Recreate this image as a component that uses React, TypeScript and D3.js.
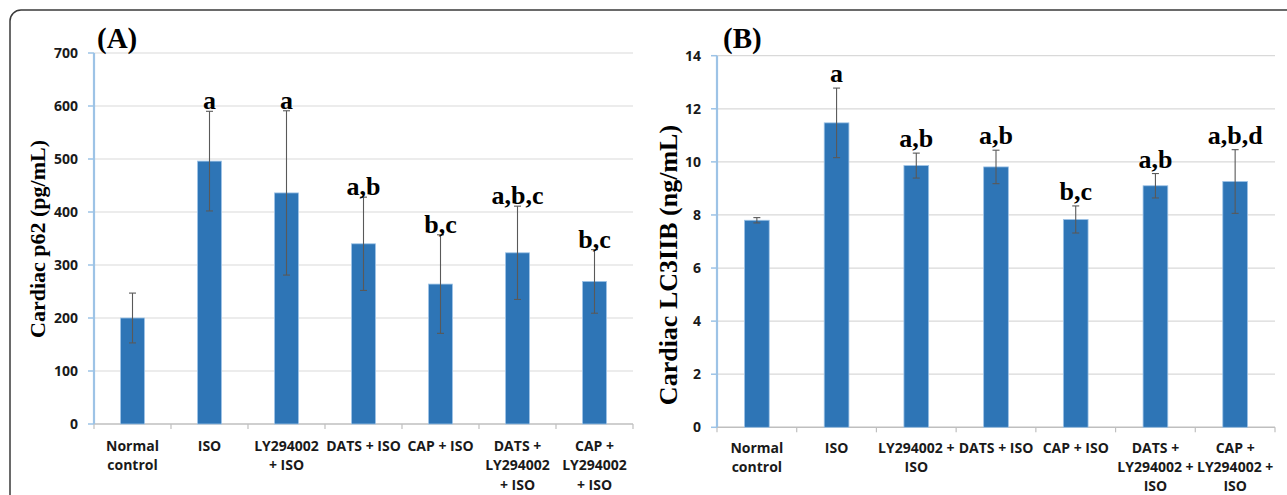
import React from "react";
import * as d3 from "d3";

// panel A - cardiac p62
const catsA = ["Normal\ncontrol", "ISO", "LY294002\n+ ISO", "DATS + ISO", "CAP + ISO", "DATS +\nLY294002\n+ ISO", "CAP +\nLY294002\n+ ISO"];
const p62Mean = [200, 496, 436, 340, 264, 323, 269];
const p62Err = [47, 94, 155, 88, 93, 88, 60];
const p62Sig = ["", "a", "a", "a,b", "b,c", "a,b,c", "b,c"];
const p62Ticks = [0, 100, 200, 300, 400, 500, 600, 700];

// panel B - cardiac LC3IIB
const catsB = ["Normal\ncontrol", "ISO", "LY294002 +\nISO", "DATS + ISO", "CAP + ISO", "DATS +\nLY294002 +\nISO", "CAP +\nLY294002 +\nISO"];
const lc3Mean = [7.8, 11.47, 9.86, 9.81, 7.83, 9.1, 9.26];
const lc3Err = [0.1, 1.31, 0.47, 0.63, 0.51, 0.46, 1.2];
const lc3Sig = ["", "a", "a,b", "a,b", "b,c", "a,b", "a,b,d"];
const lc3Ticks = [0, 2, 4, 6, 8, 10, 12, 14];

const sans = "'Open Sans', 'Noto Sans', sans-serif";
const serif = "'Liberation Serif', 'DejaVu Serif', serif";

const Panel = ({ cats, means, errs, sigs, ticks, title, tag, left, right, top, bottom, titleX, titleY, titleSize, tagX, sigGap, labelLead }) => {
  const x = d3.scaleBand().domain(cats).range([left, right]).padding(0);
  const y = d3.scaleLinear().domain([0, d3.max(ticks)]).range([bottom, top]);
  const bw = x.bandwidth() * 0.31;
  const edges = cats.map((c) => x(c)).concat([right]);

  return (
    <g>
      {ticks.filter((t) => t > 0).map((t) => (
        <line key={"g" + t} x1={left} x2={right} y1={y(t)} y2={y(t)} stroke="#d9d9d9" strokeWidth={1.2} />
      ))}
      <line x1={left} x2={right} y1={y(0)} y2={y(0)} stroke="#bfbfbf" strokeWidth={1.5} />
      {edges.map((e, i) => (
        <line key={"xt" + i} x1={e} x2={e} y1={y(0)} y2={y(0) + 5} stroke="#bfbfbf" strokeWidth={1.2} />
      ))}
      <line x1={left} x2={left} y1={y(d3.max(ticks))} y2={y(0)} stroke="#9dc3e6" strokeWidth={2.2} />
      {ticks.map((t) => (
        <g key={"t" + t}>
          <line x1={left - 6} x2={left} y1={y(t)} y2={y(t)} stroke="#9dc3e6" strokeWidth={1.5} />
          <text x={left - 16} y={y(t)} dy="0.36em" textAnchor="end" fontFamily={sans} fontWeight="bold" fontSize={14} fill="#1a1a1a">
            {t}
          </text>
        </g>
      ))}
      {cats.map((c, i) => {
        const cx = x(c) + x.bandwidth() / 2;
        const hi = y(means[i] + errs[i]);
        const lo = y(means[i] - errs[i]);
        return (
          <g key={c}>
            <rect x={cx - bw / 2} y={y(means[i])} width={bw} height={y(0) - y(means[i])} fill="#2e75b6" stroke="#9dc3e6" strokeWidth={0.8} />
            <line x1={cx} x2={cx} y1={hi} y2={lo} stroke="#595959" strokeWidth={1.1} />
            <line x1={cx - 3.5} x2={cx + 3.5} y1={hi} y2={hi} stroke="#595959" strokeWidth={1.1} />
            <line x1={cx - 3.5} x2={cx + 3.5} y1={lo} y2={lo} stroke="#595959" strokeWidth={1.1} />
            {sigs[i] && (
              <text x={cx} y={hi - sigGap} textAnchor="middle" fontFamily={serif} fontWeight="bold" fontSize={26} fill="#000">
                {sigs[i]}
              </text>
            )}
            <text textAnchor="middle" fontFamily={sans} fontWeight="bold" fontSize={14} fill="#1a1a1a">
              {c.split("\n").map((line, j) => (
                <tspan key={j} x={cx} y={y(0) + labelLead + j * 19.3}>
                  {line}
                </tspan>
              ))}
            </text>
          </g>
        );
      })}
      <text transform={`translate(${titleX},${titleY}) rotate(-90)`} textAnchor="middle" fontFamily={serif} fontWeight="bold" fontSize={titleSize} fill="#000">
        {title}
      </text>
      <text x={tagX} y={47.5} fontFamily={serif} fontWeight="bold" fontSize={29} fill="#000">
        {tag}
      </text>
    </g>
  );
};

export default function App() {
  return (
    <svg width={1287} height={495} style={{ position: "absolute", left: 0, top: 0, background: "#fff" }}>
      <rect x={10} y={10} width={1400} height={600} rx={11} fill="#fff" stroke="#3a3a3a" strokeWidth={1.5} />
      <Panel
        cats={catsA} means={p62Mean} errs={p62Err} sigs={p62Sig} ticks={p62Ticks}
        title="Cardiac p62 (pg/mL)" tag="(A)"
        left={94} right={633} top={53} bottom={424}
        titleX={45} titleY={239} titleSize={22} tagX={97} sigGap={2} labelLead={27}
      />
      <Panel
        cats={catsB} means={lc3Mean} errs={lc3Err} sigs={lc3Sig} ticks={lc3Ticks}
        title="Cardiac LC3IIB (ng/mL)" tag="(B)"
        left={717} right={1275} top={55.7} bottom={427.3}
        titleX={677} titleY={265} titleSize={26} tagX={723} sigGap={6} labelLead={25.5}
      />
    </svg>
  );
}
